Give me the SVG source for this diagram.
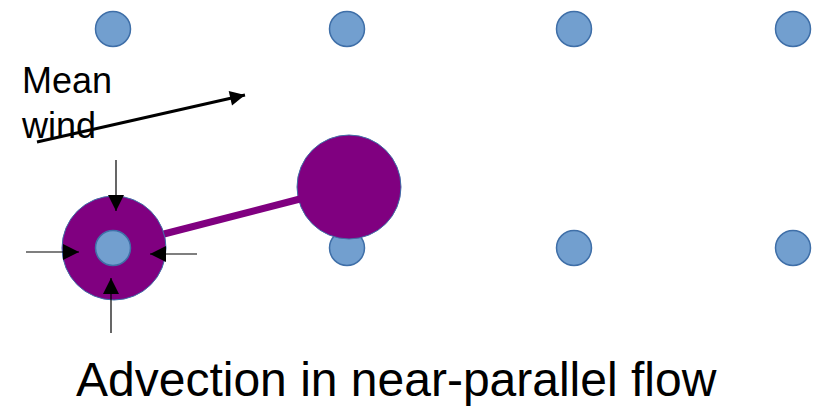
<svg xmlns="http://www.w3.org/2000/svg" width="827" height="412" viewBox="0 0 827 412">
<style>
.pt{fill:#729fcf;stroke:#3f6fa8;stroke-width:1.5}
.parcel{fill:#800080;stroke:#3f6fa8;stroke-width:1}
.lbl{font-family:"Liberation Sans",Arial,sans-serif;fill:#000}
.thin{stroke:#000;stroke-width:1.2;fill:none}
</style>
<defs>
<marker id="ah" viewBox="0 0 10 10" refX="10" refY="5" markerWidth="16" markerHeight="16" markerUnits="userSpaceOnUse" orient="auto"><path d="M0,0 L10,5 L0,10 Z" fill="#000"/></marker>
<marker id="wh" viewBox="0 0 10 10" refX="10" refY="5" markerWidth="5.5" markerHeight="5" orient="auto"><path d="M0,0 L10,5 L0,10 Z" fill="#000"/></marker>
</defs>
<g id="grid">
<circle id="p1" class="pt" cx="113" cy="29" r="17.5"/>
<circle id="p2" class="pt" cx="347" cy="29" r="17.5"/>
<circle id="p3" class="pt" cx="574" cy="29" r="17.5"/>
<circle id="p4" class="pt" cx="793" cy="29" r="17.5"/>
<circle id="p6" class="pt" cx="347" cy="248" r="17.5"/>
<circle id="p7" class="pt" cx="574" cy="248" r="17.5"/>
<circle id="p8" class="pt" cx="793" cy="248" r="17.5"/>
</g>
<g id="parcel-right">
<circle class="parcel" cx="349" cy="187" r="52"/>
</g>
<g id="connectors">
<line x1="160" y1="235" x2="300" y2="199" stroke="#800080" stroke-width="7"/>
</g>
<g id="parcel-left">
<circle class="parcel" cx="114" cy="248" r="52"/>
<circle id="p5" class="pt" cx="113" cy="248" r="17.5"/>
</g>
<g id="converge">
<line class="thin" x1="116" y1="160" x2="116" y2="211" marker-end="url(#ah)"/>
<line class="thin" x1="111" y1="333" x2="111" y2="278" marker-end="url(#ah)"/>
<line class="thin" x1="26" y1="252" x2="79" y2="252" marker-end="url(#ah)"/>
<line class="thin" x1="197" y1="254" x2="150" y2="254" marker-end="url(#ah)"/>
</g>
<g id="wind">
<text class="lbl" x="22" y="93" font-size="36">Mean</text>
<text class="lbl" x="22" y="138" font-size="36">wind</text>
<line x1="37" y1="142" x2="245" y2="95" stroke="#000" stroke-width="3" marker-end="url(#wh)"/>
</g>
<text class="lbl" x="76" y="396" font-size="48">Advection in near-parallel flow</text>
</svg>
